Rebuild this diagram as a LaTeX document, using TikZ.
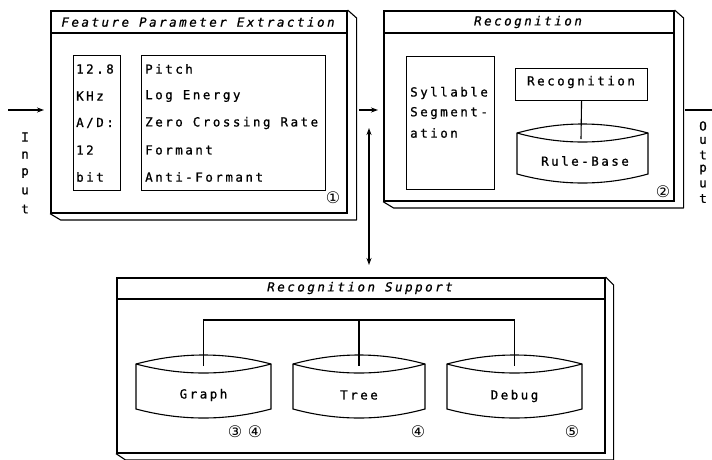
\documentclass[tikz,border=0pt]{standalone}
\usepackage{fontspec}
\usetikzlibrary{arrows.meta}
\newfontfamily\dm[LetterSpace=20, FakeBold=0.9]{DejaVu Sans Mono}
\newfontfamily\djs{DejaVu Sans}
\newcommand\mydrum[4]{% xl xr ytop ybot
  \draw[thin part] (#1,#3) .. controls ({#1+(#2-#1)/3},{#3-12}) and ({#2-(#2-#1)/3},{#3-12}) .. (#2,#3)
    -- (#2,#4) .. controls ({#2-(#2-#1)/3},{#4+12}) and ({#1+(#2-#1)/3},{#4+12}) .. (#1,#4) -- cycle;
  \draw[thin part] (#1,#3) .. controls ({#1+(#2-#1)/3},{#3+12}) and ({#2-(#2-#1)/3},{#3+12}) .. (#2,#3);
}
\tikzset{
  thin part/.style={line width=1.1pt},
  frame/.style={draw, line width=1.6pt, anchor=north west, inner sep=0pt},
  innerbox/.style={draw, line width=1.1pt, anchor=north west, inner sep=0pt},
  shade/.style={line width=1.1pt, line join=round},
  txt/.style={font=\dm\fontsize{12.5}{14}\selectfont, inner sep=0pt},
  ttl/.style={font=\dm\itshape\fontsize{12.5}{14}\selectfont, inner sep=0pt},
  ltxt/.style={txt, anchor=west},
  circ/.style={font=\djs\fontsize{16}{17}\selectfont, inner sep=0pt},
  arr/.style={line width=1.3pt, -{Stealth[length=7pt,width=5pt]}},
}
\begin{document}
\begin{tikzpicture}[x=1pt, y=-1pt]
\useasboundingbox (0,0) rectangle (712,459);
% ---------- Feature Parameter Extraction ----------
\node[frame, minimum width=296pt, minimum height=202pt] (fpe) at (50,10) {};
\draw[shade] (fpe.north east) -- ++(9,8) -- ++(0,202) -- ++(-296,0) -- (fpe.south west);
\draw[thin part] (50,33) -- (346,33);
\node[ttl] (fpet) at (198,22) {Feature Parameter Extraction};
\node[innerbox, minimum width=47pt, minimum height=135pt] (adc) at (73,55) {};
\node[innerbox, minimum width=184pt, minimum height=135pt] (feat) at (141,55) {};
\node[ltxt] (a1) at (76,69) {12.8};
\node[ltxt] (a2) at (76,96) {KHz};
\node[ltxt] (a3) at (76,123) {A/D:};
\node[ltxt] (a4) at (76,150) {12};
\node[ltxt] (a5) at (76,177) {bit};
\node[ltxt] (f1) at (145,69) {Pitch};
\node[ltxt] (f2) at (145,96) {Log Energy};
\node[ltxt] (f3) at (145,123) {Zero Crossing Rate};
\node[ltxt] (f4) at (145,150) {Formant};
\node[ltxt] (f5) at (145,177) {Anti-Formant};
\node[circ] (c1) at (333,198) {①};
% ---------- Recognition ----------
\node[frame, minimum width=290pt, minimum height=190pt] (rec) at (383,10) {};
\draw[shade] (rec.north east) -- ++(9,8) -- ++(0,190) -- ++(-290,0) -- (rec.south west);
\draw[thin part] (383,33) -- (673,33);
\node[ttl] (rect) at (528,22) {Recognition};
\node[innerbox, minimum width=88pt, minimum height=133pt] (syl) at (406,56) {};
\node[ltxt] (s1) at (410,93) {Syllable};
\node[ltxt] (s2) at (410,113) {Segment-};
\node[ltxt] (s3) at (410,133) {ation};
\node[innerbox, minimum width=132pt, minimum height=32pt] (recb) at (515,68) {};
\node[txt] (recbt) at (581,82) {Recognition};
\mydrum{517}{648}{133}{174}
\node[txt] (rule) at (585,161) {Rule-Base};
\coordinate (ruletop) at (581,139);
\draw[thin part] (recb.south) -- (ruletop);
\node[circ] (c2) at (663,192) {②};
% ---------- Recognition Support ----------
\node[frame, minimum width=488pt, minimum height=175pt] (sup) at (116,277) {};
\draw[shade] (sup.north east) -- ++(8,8) -- ++(0,175) -- ++(-488,0) -- (sup.south west);
\draw[thin part] (116,299) -- (604,299);
\node[ttl] (supt) at (360,288) {Recognition Support};
\mydrum{136}{271}{364}{409}
\mydrum{293}{425}{364}{409}
\mydrum{447}{582}{364}{409}
\node[txt] (graph) at (203.5,395) {Graph};
\node[txt] (tree) at (359,395) {Tree};
\node[txt] (debug) at (514.5,396) {Debug};
\coordinate (gtop) at (203.5,366);
\coordinate (ttop) at (359,366);
\coordinate (dtop) at (514.5,366);
\coordinate (bus) at (359,320);
\draw[thin part] (gtop) |- (bus) -| (dtop);
\draw[thin part] (bus) -- (ttop);
\node[circ] (c3) at (235,432) {③};
\node[circ] (c4) at (255,432) {④};
\node[circ] (c4b) at (418,432) {④};
\node[circ] (c5) at (572,432) {⑤};
% ---------- Connectors ----------
\coordinate (inS) at (8,110);
\coordinate (inE) at (44,110);
\draw[arr] (inS) -- (inE);
\coordinate (midS) at (359,110);
\coordinate (midE) at (378,110);
\draw[arr] (midS) -- (midE);
\coordinate (vT) at (369,128);
\coordinate (vB) at (369,265);
\draw[arr, {Stealth[length=7pt,width=5pt]}-{Stealth[length=7pt,width=5pt]}] (vT) -- (vB);
\coordinate (outS) at (685,110);
\coordinate (outE) at (712,110);
\draw[thin part] (outS) -- (outE);
\foreach \ch [count=\i] in {I,n,p,u,t} \node[txt] (in\i) at (25,{137+18*(\i-1)}) {\ch};
\foreach \ch [count=\i] in {O,u,t,p,u,t} \node[txt] (out\i) at (703,{126+14.5*(\i-1)}) {\ch};
\end{tikzpicture}
\end{document}
